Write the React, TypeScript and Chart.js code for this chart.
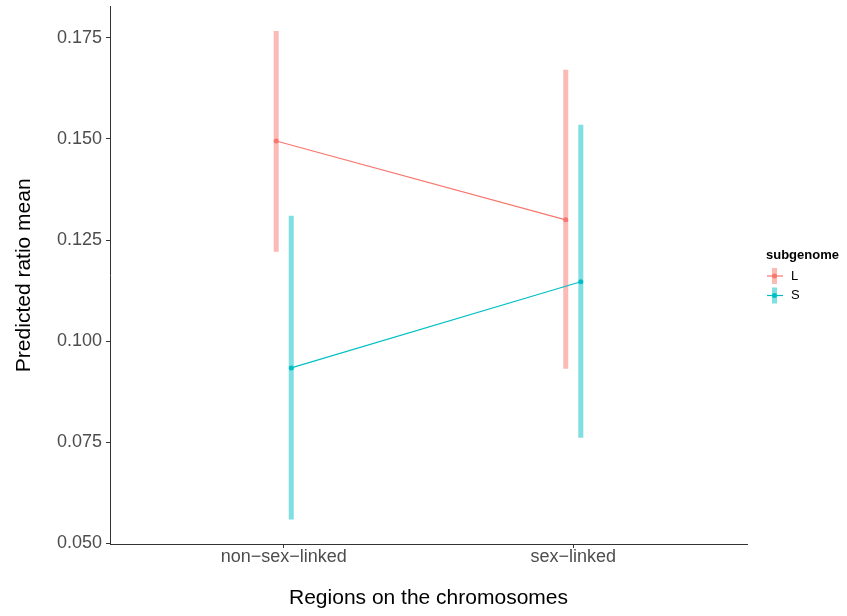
import React, { useEffect, useRef } from "react";
import { Chart, registerables } from "chart.js";

Chart.register(...registerables);

const categories = ["non\u2212sex\u2212linked", "sex\u2212linked"];
const groups = ["L", "S"];
const meanL = [0.1495, 0.1300];
const lowerL = [0.1221, 0.0932];
const upperL = [0.1767, 0.1671];
const meanS = [0.0934, 0.1147];
const lowerS = [0.0559, 0.0761];
const upperS = [0.1310, 0.1535];
const yTicks = [0.05, 0.075, 0.1, 0.125, 0.15, 0.175];

const lineColors = ["#F8766D", "#00BFC4"];
const barColors = ["rgba(248,118,109,0.5)", "rgba(0,191,196,0.5)"];
const dodge = [-0.026, 0.026];
const FONT = "'Liberation Sans', Arial, Helvetica, sans-serif";

export default function App() {
  const ref = useRef<HTMLCanvasElement | null>(null);

  useEffect(() => {
    document.body.style.margin = "0";
    const canvas = ref.current;
    if (!canvas) return;

    const means = [meanL, meanS];
    const lows = [lowerL, lowerS];
    const highs = [upperL, upperS];

    const datasets: any[] = [];
    groups.forEach((g, gi) => {
      categories.forEach((c, ci) => {
        datasets.push({
          type: "line",
          label: g + " " + c + " CI",
          data: [
            { x: ci + 1 + dodge[gi], y: lows[gi][ci] },
            { x: ci + 1 + dodge[gi], y: highs[gi][ci] },
          ],
          borderColor: barColors[gi],
          borderWidth: 5,
          borderCapStyle: "butt",
          pointRadius: 0,
          order: 2,
        });
      });
    });
    groups.forEach((g, gi) => {
      datasets.push({
        type: "line",
        label: g,
        data: categories.map((c, ci) => ({ x: ci + 1 + dodge[gi], y: means[gi][ci] })),
        borderColor: lineColors[gi],
        borderWidth: 1.2,
        pointRadius: 2.5,
        pointBackgroundColor: lineColors[gi],
        pointBorderWidth: 0,
        order: 1,
      });
    });

    const legendPlugin = {
      id: "ggLegend",
      afterDraw(chart: any) {
        const ctx = chart.ctx;
        ctx.save();
        ctx.fillStyle = "#000";
        ctx.font = "bold 13px " + FONT;
        ctx.textAlign = "left";
        ctx.textBaseline = "alphabetic";
        ctx.fillText("subgenome", 766, 259);
        const ys = [276, 295.5];
        groups.forEach((g, gi) => {
          const cy = ys[gi];
          const cx = 774.5;
          ctx.fillStyle = barColors[gi];
          ctx.fillRect(cx - 2.5, cy - 8, 5, 16);
          ctx.strokeStyle = lineColors[gi];
          ctx.lineWidth = 1.2;
          ctx.beginPath();
          ctx.moveTo(767, cy);
          ctx.lineTo(783, cy);
          ctx.stroke();
          ctx.fillStyle = lineColors[gi];
          ctx.beginPath();
          ctx.arc(cx, cy, 2.5, 0, Math.PI * 2);
          ctx.fill();
          ctx.fillStyle = "#000";
          ctx.font = "13px " + FONT;
          ctx.textBaseline = "middle";
          ctx.fillText(g, 791, cy);
        });
        ctx.restore();
      },
    };

    const chart = new Chart(canvas, {
      type: "line",
      data: { datasets },
      options: {
        animation: false,
        responsive: false,
        devicePixelRatio: 1,
        layout: { padding: { left: 0, top: 6.5, right: 100, bottom: 0 } },
        plugins: { legend: { display: false }, tooltip: { enabled: false } },
        scales: {
          x: {
            type: "linear",
            min: 0.4,
            max: 2.6,
            afterFit: (s: any) => {
              s.height = 72;
              s.paddingLeft = 0;
              s.paddingRight = 0;
            },
            afterBuildTicks: (s: any) => {
              s.ticks = categories.map((c, i) => ({ value: i + 1 }));
            },
            ticks: {
              callback: (v: any) => categories[Math.round(Number(v)) - 1] ?? "",
              color: "#4D4D4D",
              font: { family: FONT, size: 18, lineHeight: 1 },
              padding: 0,
              maxRotation: 0,
              autoSkip: false,
            },
            grid: {
              display: true,
              drawOnChartArea: false,
              drawTicks: true,
              tickLength: 4,
              color: "#333333",
              lineWidth: 1,
            },
            border: { display: true, color: "#333333", width: 1 },
            title: {
              display: true,
              text: "Regions on the chromosomes",
              color: "#000",
              font: { family: FONT, size: 21, lineHeight: 1.2 },
              padding: { top: 0, bottom: 5 },
            },
          },
          y: {
            type: "linear",
            min: 0.04986,
            max: 0.18274,
            afterFit: (s: any) => {
              s.width = 110;
              s.paddingTop = 0;
              s.paddingBottom = 0;
            },
            afterBuildTicks: (s: any) => {
              s.ticks = yTicks.map((v) => ({ value: v }));
            },
            ticks: {
              callback: (v: any) => Number(v).toFixed(3),
              color: "#4D4D4D",
              font: { family: FONT, size: 18 },
              padding: 4,
              autoSkip: false,
            },
            grid: {
              display: true,
              drawOnChartArea: false,
              drawTicks: true,
              tickLength: 4,
              color: "#333333",
              lineWidth: 1,
            },
            border: { display: true, color: "#333333", width: 1 },
            title: {
              display: true,
              text: "Predicted ratio mean",
              color: "#000",
              font: { family: FONT, size: 21, lineHeight: 1.2 },
              padding: { top: 11.5, bottom: 0 },
            },
          },
        },
      },
      plugins: [legendPlugin],
    });

    return () => chart.destroy();
  }, []);

  return (
    <div style={{ width: 847, height: 616 }}>
      <canvas ref={ref} width={847} height={616} style={{ display: "block" }} />
    </div>
  );
}
